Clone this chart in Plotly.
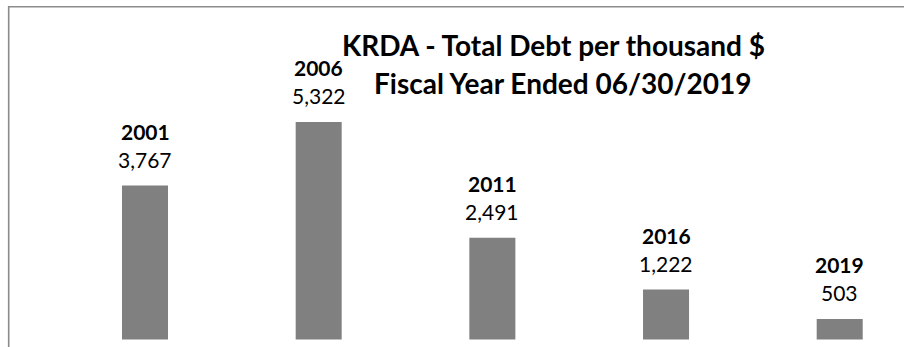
import plotly.graph_objects as go

years = ["2001", "2006", "2011", "2016", "2019"]
debt = [3767, 5322, 2491, 1222, 503]
title_lines = ["KRDA - Total Debt per thousand $", "Fiscal Year Ended 06/30/2019"]

W, H = 904, 347
FONT = "Lato, Open Sans, sans-serif"
idx = list(range(len(years)))

fig = go.Figure()
fig.add_trace(go.Bar(
    x=idx, y=debt,
    marker=dict(color="#808080", line=dict(width=0)),
    width=0.265,
    hoverinfo="skip",
))

for i, yr, v in zip(idx, years, debt):
    fig.add_annotation(
        x=i, y=v, xref="x", yref="y",
        text=f"{v:,}",
        showarrow=False, yanchor="bottom", xanchor="center",
        yshift=12, align="center",
        font=dict(family=FONT, size=21, color="#000000"),
    )
    fig.add_annotation(
        x=i, y=v, xref="x", yref="y",
        text=f"<b>{yr}</b>",
        showarrow=False, yanchor="bottom", xanchor="center",
        yshift=40, align="center",
        font=dict(family=FONT, size=21, color="#000000"),
    )

for line, cx, top in zip(title_lines, [553, 563], [25.6, 63.6]):
    fig.add_annotation(
        x=cx / W, y=1 - top / H, xref="paper", yref="paper",
        text="<b>" + line + "</b>",
        showarrow=False, xanchor="center", yanchor="top", align="center",
        font=dict(family=FONT, size=28, color="#000000"),
    )

fig.add_shape(
    type="rect", xref="paper", yref="paper",
    x0=8.7 / W, x1=1.05, y0=-0.05, y1=1 - 6.7 / H,
    line=dict(color="#8c8c8c", width=1.6), fillcolor="rgba(0,0,0,0)",
)

fig.update_layout(
    width=W, height=H,
    margin=dict(l=0, r=0, t=0, b=0),
    paper_bgcolor="white", plot_bgcolor="white",
    showlegend=False,
    xaxis=dict(range=[-0.8349, 4.3702], visible=False, fixedrange=True),
    yaxis=dict(range=[-183.5, 8307], visible=False, fixedrange=True),
    font=dict(family=FONT),
)

fig.write_html("out.html", config={"displayModeBar": False})
